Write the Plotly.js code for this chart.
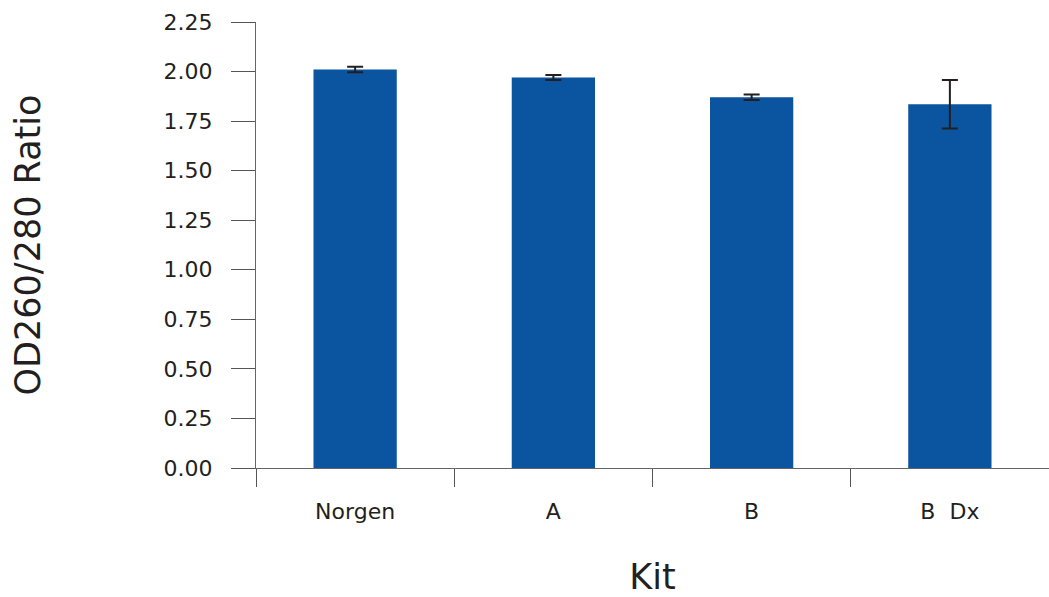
<!DOCTYPE html>
<html>
<head>
<meta charset="utf-8">
<script src="https://cdn.plot.ly/plotly-3.0.1.min.js"></script>
<style>html,body{margin:0;padding:0;background:#fff;}#chart{width:1049px;height:597px;}</style>
</head>
<body>
<div id="chart"></div>
<script>
const kits = ["Norgen", "A", "B", "B  Dx"];
const ratios = [2.01, 1.97, 1.87, 1.835];
const errors = [0.014, 0.012, 0.014, 0.122];
const yTicks = [0, 0.25, 0.5, 0.75, 1.0, 1.25, 1.5, 1.75, 2.0, 2.25];

const trace = {
  type: "bar",
  x: kits,
  y: ratios,
  marker: {color: "#0B54A0"},
  error_y: {type: "data", array: errors, visible: true, color: "#231F20", thickness: 2, width: 8},
  hoverinfo: "none"
};

const layout = {
  width: 1049, height: 597,
  margin: {l: 256, r: 0, t: 22, b: 129},
  paper_bgcolor: "#fff", plot_bgcolor: "#fff",
  font: {family: "'DejaVu Sans', sans-serif", color: "#231F20"},
  showlegend: false,
  bargap: 0.58,
  xaxis: {
    type: "category",
    showline: true, linecolor: "#666", linewidth: 1,
    ticks: "outside", tickson: "boundaries", ticklen: 18, tickcolor: "#555", tickwidth: 1,
    tickfont: {size: 22},
    ticklabelstandoff: 24,
    showgrid: false, zeroline: false,
    title: {text: "Kit", font: {size: 35}, standoff: 42}
  },
  yaxis: {
    range: [0, 2.25],
    tickvals: yTicks,
    tickformat: ".2f",
    showline: true, linecolor: "#666", linewidth: 1,
    ticks: "outside", ticklen: 24, tickcolor: "#555", tickwidth: 1,
    tickfont: {size: 22},
    ticklabelstandoff: 14,
    showgrid: false, zeroline: false,
    title: {text: "OD260/280 Ratio", font: {size: 35}, standoff: 112}
  }
};

Plotly.newPlot("chart", [trace], layout, {displayModeBar: false, staticPlot: true});
</script>
</body>
</html>
